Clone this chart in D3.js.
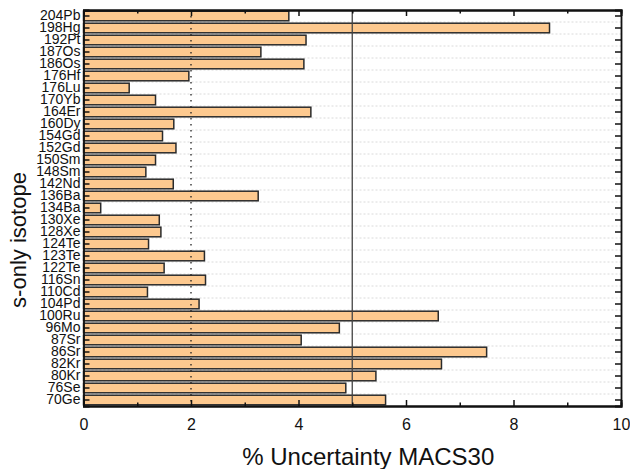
<!DOCTYPE html>
<html>
<head>
<meta charset="utf-8">
<script src="https://cdn.jsdelivr.net/npm/d3@7"></script>
<style>
  body { margin: 0; background: #fff; }
  svg { font-family: "Liberation Sans", Arial, sans-serif; }
</style>
</head>
<body>
<svg id="chart" width="630" height="469"></svg>
<script>
// isotopes, top to bottom
const isotopes = ["204Pb","198Hg","192Pt","187Os","186Os","176Hf","176Lu","170Yb","164Er","160Dy",
  "154Gd","152Gd","150Sm","148Sm","142Nd","136Ba","134Ba","130Xe","128Xe","124Te","123Te","122Te",
  "116Sn","110Cd","104Pd","100Ru","96Mo","87Sr","86Sr","82Kr","80Kr","76Se","70Ge"];
const uncertainty = [3.82,8.67,4.14,3.30,4.10,1.96,0.85,1.34,4.23,1.68,
  1.47,1.72,1.34,1.16,1.67,3.25,0.32,1.41,1.44,1.21,2.25,1.50,
  2.27,1.19,2.15,6.60,4.76,4.05,7.50,6.66,5.44,4.88,5.62];
const xTicks = [0,2,4,6,8,10];
const xMinor = [1,3,5,7,9];
const dottedAt = 2, solidAt = 5;

let svg = d3.select("#chart");
let margin = {left: 83.5, right: 9, top: 10, bottom: 63};
let w = 630 - margin.left - margin.right,
    h = 469 - margin.top - margin.bottom;

let g = svg.append("g").attr("transform", "translate(" + margin.left + "," + margin.top + ")");

let x = d3.scaleLinear().domain([0, 10]).range([0, w]);
let y = d3.scaleBand().domain(isotopes).range([0, h]).paddingInner(0.2).paddingOuter(0.1);

// dotted grid at band boundaries
let step = y.step();
let gridY = d3.range(1, isotopes.length).map(i => y(isotopes[i]) - y.paddingInner() * step / 2);
g.append("g").selectAll("line").data(gridY).enter().append("line")
  .attr("x1", 0).attr("x2", w)
  .attr("y1", d => d).attr("y2", d => d)
  .attr("stroke", "#d0d0d0").attr("stroke-width", 0.8).attr("stroke-dasharray", "2,2");

let data = isotopes.map((k, i) => ({name: k, v: uncertainty[i]}));

g.append("g").selectAll("rect").data(data).enter().append("rect")
  .attr("x", 0)
  .attr("y", d => y(d.name))
  .attr("width", d => x(d.v))
  .attr("height", y.bandwidth())
  .attr("fill", "#fdc98f")
  .attr("stroke", "#2a2a2a")
  .attr("stroke-width", 1.5);

// reference lines
g.append("line").attr("x1", x(dottedAt)).attr("x2", x(dottedAt)).attr("y1", 0).attr("y2", h)
  .attr("stroke", "#222").attr("stroke-width", 1.3).attr("stroke-dasharray", "1.5,4.5");
g.append("line").attr("x1", x(solidAt)).attr("x2", x(solidAt)).attr("y1", 0).attr("y2", h)
  .attr("stroke", "#444").attr("stroke-width", 1.3);

// axes, ticks inward
let xb = g.append("g").attr("transform", "translate(0," + h + ")")
  .call(d3.axisBottom(x).tickValues(xTicks).tickSize(-6).tickPadding(13).tickFormat(d3.format("d")));
let xbm = g.append("g").attr("transform", "translate(0," + h + ")")
  .call(d3.axisBottom(x).tickValues(xMinor).tickSize(-3.5).tickFormat(""));
let xt = g.append("g")
  .call(d3.axisTop(x).tickValues(xTicks).tickSize(-6).tickFormat(""));
let xtm = g.append("g")
  .call(d3.axisTop(x).tickValues(xMinor).tickSize(-3.5).tickFormat(""));
let yl = g.append("g")
  .call(d3.axisLeft(y).tickSize(-6).tickPadding(3));
let yr = g.append("g").attr("transform", "translate(" + w + ",0)")
  .call(d3.axisRight(y).tickSize(-6).tickFormat(""));

[xb, xbm, xt, xtm, yl, yr].forEach(a => {
  a.select(".domain").attr("stroke", "#111").attr("stroke-width", 1.8);
  a.selectAll(".tick line").attr("stroke", "#111").attr("stroke-width", 1.5);
});
xb.selectAll("text").attr("font-size", 16).attr("fill", "#111");
yl.selectAll("text").attr("font-size", 14).attr("fill", "#111");

svg.append("text")
  .attr("x", margin.left + w / 2 + 16).attr("y", 465)
  .attr("text-anchor", "middle").attr("font-size", 24).attr("fill", "#111")
  .text("% Uncertainty MACS30");

svg.append("text")
  .attr("transform", "translate(26," + (margin.top + h / 2 + 32) + ") rotate(-90)")
  .attr("text-anchor", "middle").attr("font-size", 22).attr("fill", "#111")
  .text("s-only isotope");
</script>
</body>
</html>
